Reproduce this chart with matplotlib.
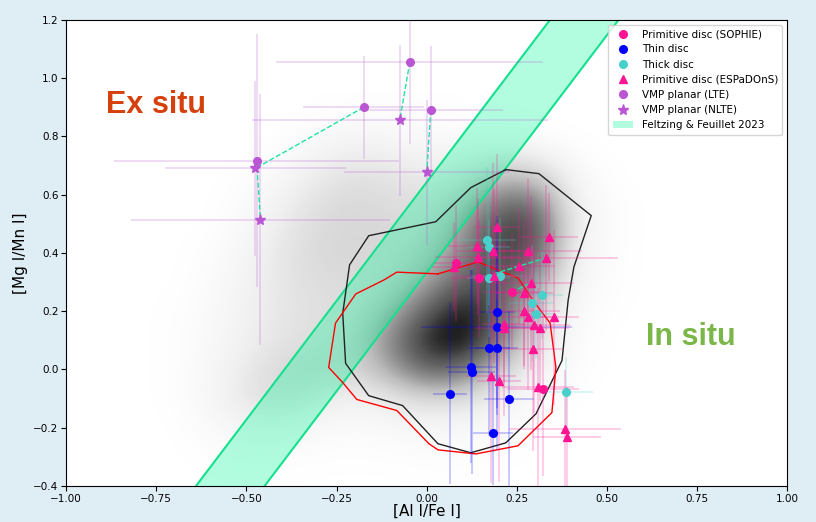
import numpy as np
import matplotlib.pyplot as plt
from matplotlib.patches import Patch

# Fond : densité de l'échantillon de comparaison (grille 0.1 dex)
grid_x = np.arange(-0.8, 0.61, 0.1)
grid_y = np.arange(-0.4, 0.91, 0.1)
densite = np.array([
    # x: -0.8 -0.7 -0.6 -0.5 -0.4 -0.3 -0.2 -0.1  0.0  0.1  0.2  0.3  0.4  0.5  0.6
    [0.0, 0.0, 0.0, 0.0, 0.0, 0.0, 0.0, 0.0, 0.0, 0.0, 0.0, 0.0, 0.0, 0.0, 0.0],   # -0.4
    [0.0, 0.0, 0.1, 0.2, 0.2, 0.1, 0.1, 0.1, 0.2, 0.2, 0.1, 0.0, 0.0, 0.0, 0.0],   # -0.3
    [0.0, 0.0, 0.4, 0.9, 0.8, 0.5, 0.3, 0.5, 0.6, 0.6, 0.3, 0.1, 0.0, 0.0, 0.0],   # -0.2
    [0.0, 0.1, 0.7, 1.8, 2.4, 1.6, 1.0, 1.6, 2.5, 2.2, 1.0, 0.4, 0.0, 0.0, 0.0],   # -0.1
    [0.0, 0.1, 0.6, 1.6, 2.6, 2.8, 2.6, 4.5, 7.0, 6.5, 3.0, 1.0, 0.3, 0.0, 0.0],   # 0.0
    [0.0, 0.1, 0.5, 1.2, 1.9, 2.2, 2.8, 5.5, 9.0, 10.0, 6.0, 2.0, 0.4, 0.0, 0.0],  # 0.1
    [0.0, 0.1, 0.4, 1.1, 1.8, 2.1, 2.3, 4.0, 7.0, 9.5, 7.0, 3.0, 0.5, 0.1, 0.0],   # 0.2
    [0.0, 0.0, 0.3, 1.0, 1.8, 2.3, 2.3, 2.6, 4.5, 7.0, 7.5, 5.0, 0.8, 0.2, 0.0],   # 0.3
    [0.0, 0.0, 0.2, 0.8, 1.8, 2.5, 2.6, 2.5, 3.2, 5.5, 8.0, 7.5, 1.2, 0.2, 0.0],   # 0.4
    [0.0, 0.0, 0.0, 0.5, 1.5, 2.4, 2.6, 2.4, 2.5, 4.5, 8.0, 8.0, 1.5, 0.3, 0.0],   # 0.5
    [0.0, 0.0, 0.0, 0.3, 1.0, 2.0, 2.5, 2.2, 2.0, 3.0, 5.5, 5.5, 1.2, 0.2, 0.0],   # 0.6
    [0.0, 0.0, 0.0, 0.0, 0.4, 1.2, 1.8, 1.6, 1.2, 1.5, 2.5, 2.0, 0.6, 0.0, 0.0],   # 0.7
    [0.0, 0.0, 0.0, 0.0, 0.0, 0.5, 0.8, 0.6, 0.4, 0.3, 0.3, 0.2, 0.0, 0.0, 0.0],   # 0.8
    [0.0, 0.0, 0.0, 0.0, 0.0, 0.0, 0.1, 0.1, 0.1, 0.0, 0.0, 0.0, 0.0, 0.0, 0.0],   # 0.9
])

# Contours de densité
contour_noir_x = [0.219, 0.311, 0.456, 0.408, 0.392, 0.375, 0.303, 0.219, 0.122, 0.031,
                  -0.067, -0.161, -0.225, -0.233, -0.214, -0.161, 0.025, 0.122, 0.219]
contour_noir_y = [0.686, 0.672, 0.528, 0.352, 0.238, 0.031, -0.152, -0.252, -0.286, -0.255,
                  -0.124, -0.090, 0.021, 0.193, 0.359, 0.459, 0.507, 0.624, 0.686]
contour_rouge_x = [0.031, 0.142, 0.253, 0.294, 0.342, 0.358, 0.347, 0.253, 0.136, 0.031,
                   0.006, -0.083, -0.194, -0.233, -0.272, -0.253, -0.197, -0.119, -0.083, 0.031]
contour_rouge_y = [0.328, 0.369, 0.314, 0.238, 0.159, 0.007, -0.148, -0.262, -0.290, -0.276,
                   -0.255, -0.141, -0.103, -0.045, 0.007, 0.159, 0.259, 0.307, 0.334, 0.328]

# Bande de Feltzing & Feuillet 2023 : y = pente*x + ordonnée
pente_ff = 1.63
ordonnee_haut = 0.643
ordonnee_bas = 0.333

# Disque primitif (SOPHIE)
sophie_x = [0.081, 0.145, 0.235, 0.322]
sophie_y = [0.366, 0.313, 0.266, -0.066]
sophie_xerr = [0.06, 0.08, 0.08, 0.10]
sophie_yerr = [0.20, 0.20, 0.20, 0.30]

# Disque mince
mince_x = [0.194, 0.194, 0.172, 0.194, 0.122, 0.125, 0.064, 0.228, 0.183]
mince_y = [0.197, 0.145, 0.072, 0.072, 0.010, -0.010, -0.083, -0.100, -0.217]
mince_xerr = [0.05, 0.21, 0.06, 0.06, 0.07, 0.065, 0.047, 0.07, 0.055]
mince_yerr = [0.33, 0.30, 0.30, 0.35, 0.33, 0.35, 0.31, 0.30, 0.18]

# Disque épais
epais_x = [0.167, 0.172, 0.172, 0.203, 0.319, 0.292, 0.303, 0.386]
epais_y = [0.445, 0.420, 0.313, 0.321, 0.255, 0.228, 0.190, -0.076]
epais_xerr = [0.08, 0.06, 0.06, 0.08, 0.06, 0.06, 0.05, 0.075]
epais_yerr = [0.25, 0.20, 0.20, 0.20, 0.15, 0.20, 0.15, 0.12]

# Disque primitif (ESPaDOnS)
espa_x = [0.194, 0.139, 0.183, 0.142, 0.339, 0.281, 0.256, 0.331, 0.186, 0.289, 0.269, 0.269, 0.281,
          0.353, 0.297, 0.314, 0.214, 0.214, 0.294, 0.178, 0.200, 0.308, 0.383, 0.389, 0.075]
espa_y = [0.490, 0.424, 0.407, 0.386, 0.455, 0.407, 0.355, 0.383, 0.321, 0.297, 0.262, 0.200, 0.179,
          0.179, 0.152, 0.141, 0.155, 0.141, 0.069, -0.021, -0.038, -0.059, -0.203, -0.231, 0.352]
espa_xerr = [0.06, 0.08, 0.10, 0.12, 0.08, 0.15, 0.10, 0.20, 0.10, 0.12, 0.08, 0.10, 0.07,
             0.07, 0.10, 0.08, 0.06, 0.08, 0.08, 0.07, 0.06, 0.10, 0.155, 0.095, 0.06]
espa_yerr = [0.25, 0.20, 0.30, 0.20, 0.15, 0.25, 0.20, 0.25, 0.30, 0.30, 0.25, 0.20, 0.25,
             0.30, 0.30, 0.25, 0.20, 0.30, 0.35, 0.37, 0.35, 0.34, 0.20, 0.17, 0.15]

# Liaisons SOPHIE -> ESPaDOnS (même étoile)
liens_sophie = [1, 2, 3, 0]
liens_espa = [7, 9, 21, 24]

# Étoiles VMP planaires, LTE et NLTE (même ordre)
vmp_lte_x = [-0.472, -0.175, -0.047, 0.011]
vmp_lte_y = [0.717, 0.900, 1.055, 0.890]
vmp_lte_xerr = [0.395, 0.167, 0.37, 0.20]
vmp_lte_yerr = [0.435, 0.176, 0.28, 0.22]
vmp_nlte_x = [-0.461, -0.475, -0.075, 0.000]
vmp_nlte_y = [0.514, 0.690, 0.855, 0.676]
vmp_nlte_xerr = [0.36, 0.25, 0.41, 0.23]
vmp_nlte_yerr = [0.43, 0.30, 0.26, 0.25]

fig = plt.figure(figsize=(8.16, 5.22), dpi=100, facecolor='#dfedf5')
ax = fig.add_axes([0.081, 0.069, 0.884, 0.893])

# densité en niveaux de gris
dx = 0.05
ax.imshow(densite, origin='lower', cmap='Greys', vmin=0, vmax=10, interpolation='bicubic',
          extent=[grid_x[0] - dx, grid_x[-1] + dx, grid_y[0] - dx, grid_y[-1] + dx],
          aspect='auto', zorder=0)

# bande FF23
xb = np.linspace(-1, 1, 200)
ax.fill_between(xb, pente_ff * xb + ordonnee_bas, pente_ff * xb + ordonnee_haut,
                color='mediumspringgreen', alpha=0.3, lw=0, zorder=1)
ax.plot(xb, pente_ff * xb + ordonnee_bas, color='#14e08e', lw=1.5, zorder=1)
ax.plot(xb, pente_ff * xb + ordonnee_haut, color='#14e08e', lw=1.5, zorder=1)

ax.plot(contour_noir_x, contour_noir_y, color='#222222', lw=1, zorder=2)
ax.plot(contour_rouge_x, contour_rouge_y, color='red', lw=1, zorder=2)

# barres d'erreur
kw = dict(fmt='none', elinewidth=1.2, alpha=0.25, zorder=3)
ax.errorbar(vmp_lte_x, vmp_lte_y, xerr=vmp_lte_xerr, yerr=vmp_lte_yerr, ecolor='mediumorchid', **kw)
ax.errorbar(vmp_nlte_x, vmp_nlte_y, xerr=vmp_nlte_xerr, yerr=vmp_nlte_yerr, ecolor='mediumorchid', **kw)
ax.errorbar(mince_x, mince_y, xerr=mince_xerr, yerr=mince_yerr, ecolor='blue', **kw)
ax.errorbar(epais_x, epais_y, xerr=epais_xerr, yerr=epais_yerr, ecolor='mediumturquoise', **kw)
ax.errorbar(espa_x, espa_y, xerr=espa_xerr, yerr=espa_yerr, ecolor='deeppink', **kw)
ax.errorbar(sophie_x, sophie_y, xerr=sophie_xerr, yerr=sophie_yerr, ecolor='deeppink', **kw)

# liaisons en tirets
for i in range(len(vmp_lte_x)):
    ax.plot([vmp_lte_x[i], vmp_nlte_x[i]], [vmp_lte_y[i], vmp_nlte_y[i]],
            ls='--', color='#1fe3a6', lw=1, zorder=4)
for i, j in zip(liens_sophie, liens_espa):
    ax.plot([sophie_x[i], espa_x[j]], [sophie_y[i], espa_y[j]],
            ls='--', color='#1fe3a6', lw=1, zorder=4)

h1, = ax.plot(sophie_x, sophie_y, 'o', color='deeppink', ms=5.5, ls='none', zorder=5)
h2, = ax.plot(mince_x, mince_y, 'o', color='blue', ms=5.5, ls='none', zorder=5)
h3, = ax.plot(epais_x, epais_y, 'o', color='mediumturquoise', ms=5.5, ls='none', zorder=5)
h4, = ax.plot(espa_x, espa_y, '^', color='deeppink', ms=5.5, ls='none', zorder=6)
h5, = ax.plot(vmp_lte_x, vmp_lte_y, 'o', color='mediumorchid', ms=5.5, ls='none', zorder=5)
h6, = ax.plot(vmp_nlte_x, vmp_nlte_y, '*', color='mediumorchid', ms=8, ls='none', zorder=5)
h7 = Patch(facecolor='mediumspringgreen', alpha=0.3, edgecolor='none')

ax.legend([h1, h2, h3, h4, h5, h6, h7],
          ['Primitive disc (SOPHIE)', 'Thin disc', 'Thick disc', 'Primitive disc (ESPaDOnS)',
           'VMP planar (LTE)', 'VMP planar (NLTE)', 'Feltzing & Feuillet 2023'],
          loc='upper right', fontsize=7.5)

ax.text(-0.75, 0.907, 'Ex situ', color='#d6400c', fontsize=22, fontweight='bold',
        family='Liberation Sans', ha='center', va='center')
ax.text(0.733, 0.11, 'In situ', color='#7ab648', fontsize=22, fontweight='bold',
        family='Liberation Sans', ha='center', va='center')

ax.set_xlim(-1, 1)
ax.set_ylim(-0.4, 1.2)
ticks_x = np.arange(-1, 1.01, 0.25)
ax.set_xticks(ticks_x)
ax.set_xticklabels([f'{v:.2f}'.replace('-', '\u2212') for v in ticks_x])
ax.tick_params(labelsize=7.5, pad=2)
ax.set_xlabel('[Al I/Fe I]', fontsize=11, labelpad=0)
ax.set_ylabel('[Mg I/Mn I]', fontsize=11)

fig.savefig('out.png', dpi=100, facecolor=fig.get_facecolor())
